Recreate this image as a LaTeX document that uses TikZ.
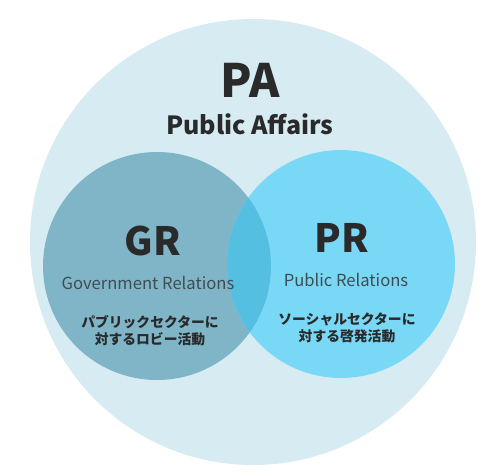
\documentclass[tikz,border=0pt]{standalone}
\usepackage{fontspec}
\setmainfont{Noto Sans CJK JP}
\usetikzlibrary{positioning}

\definecolor{paback}{HTML}{D6EBF2}
\definecolor{grback}{HTML}{80B5C8}
\definecolor{prback}{HTML}{79D8F5}
\definecolor{lapback}{HTML}{55BFE2}
\definecolor{ink}{HTML}{2A2A2A}
\definecolor{subink}{HTML}{3E4D53}

\tikzstyle{field} = [circle, draw=none, inner sep=0pt]
\tikzstyle{abbr} = [text=ink, inner sep=0pt, font=\bfseries\fontsize{39}{39}\selectfont]
\tikzstyle{full} = [text=subink, inner sep=0pt, font=\fontsize{16.6}{16.6}\selectfont]
\tikzstyle{note} = [text=ink, inner sep=0pt, align=center, font=\bfseries\fontsize{13.8}{17}\selectfont]

\begin{document}
\begin{tikzpicture}[x=1pt, y=-1pt]
    \useasboundingbox (0,0) rectangle (496,475);
    % circles
    \node[field, fill=paback, minimum size=446pt] (pa) at (253,242) {};
    \node[field, fill=grback, minimum size=228pt] (gr) at (157,266) {};
    \node[field, fill=prback, minimum size=228pt] (pr) at (341,264) {};
    \begin{scope}
        \clip (gr.center) circle (114pt);
        \fill[lapback] (pr.center) circle (114pt);
    \end{scope}
    % PA
    \node[abbr, font=\bfseries\fontsize{46}{46}\selectfont] (patitle) at (250,80) {PA};
    \node[abbr, font=\bfseries\fontsize{25}{25}\selectfont] (paname) at (250,124) {Public Affairs};
    % GR
    \node[abbr] (grtitle) at (153,241) {GR};
    \node[full] (grname) at (148,283) {Government Relations};
    \node[note] (grnote) at (150,331) {パブリックセクターに\\対するロビー活動};
    % PR
    \node[abbr] (prtitle) at (342,238) {PR};
    \node[full] (prname) at (346,280) {Public Relations};
    \node[note] (prnote) at (347,328) {ソーシャルセクターに\\対する啓発活動};
\end{tikzpicture}
\end{document}
